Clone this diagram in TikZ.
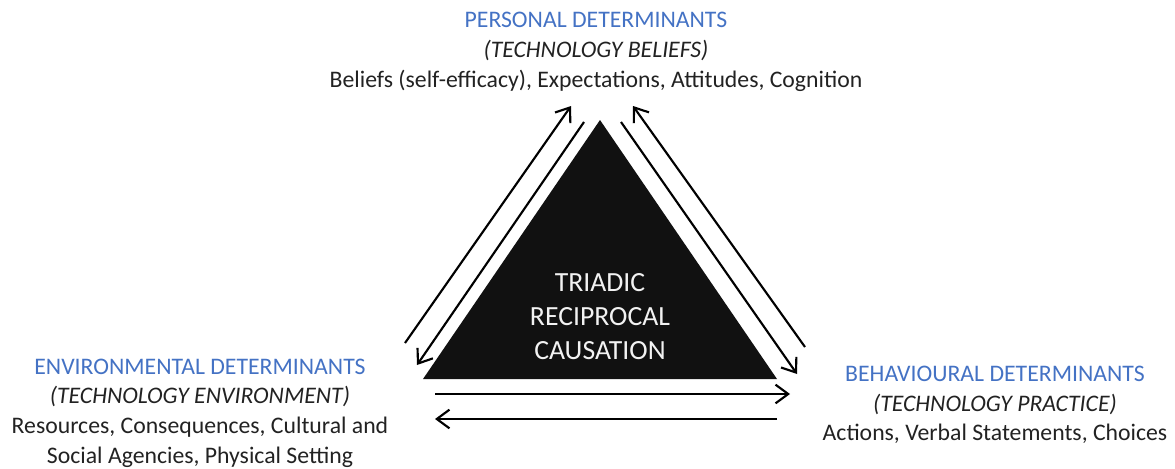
\documentclass[tikz,border=0pt]{standalone}
\usepackage{fontspec}
\setmainfont{Carlito}
\usetikzlibrary{arrows.meta}

\definecolor{detblue}{RGB}{68,114,196}
\definecolor{triblack}{RGB}{17,17,17}
\definecolor{textgrey}{RGB}{34,34,34}

\tikzset{every picture/.style={line width=0.75pt}}
\tikzset{
  linkarrow/.style={line width=1.6pt,-{Straight Barb[length=9.5pt,width=14pt,line width=1.6pt]}},
  detlabel/.style={align=center,text=textgrey,font=\fontsize{17.8}{22.3}\selectfont},
  triadtext/.style={align=center,text=black!5,font=\fontsize{20.8}{25.5}\selectfont}
}
\newcommand{\dethead}[1]{\textcolor{detblue}{#1}}

\begin{document}
\begin{tikzpicture}[x=0.75pt,y=0.75pt,yscale=-1,xscale=1]
\useasboundingbox (0,0) rectangle (1175,468);

%Shape: Triangle
\coordinate (apex) at (600,120);
\coordinate (baseR) at (777,379);
\coordinate (baseL) at (423,379);
\draw [fill=triblack, draw=none] (apex) -- (baseR) -- (baseL) -- cycle ;

% Text Node
\node (triad) [triadtext] at (600,317) {TRIADIC\\RECIPROCAL\\CAUSATION};

% Text Node
\node (personal) [detlabel] at (596,52) {\dethead{PERSONAL DETERMINANTS}\\
  \textit{(TECHNOLOGY BELIEFS)}\\
  Beliefs (self-efficacy), Expectations, Attitudes, Cognition};
% Text Node
\node (environ) [detlabel] at (200,413) {\dethead{ENVIRONMENTAL DETERMINANTS}\\
  \textit{(TECHNOLOGY ENVIRONMENT)}\\
  Resources, Consequences, Cultural and\\
  Social Agencies, Physical Setting};
% Text Node
\node (behav) [detlabel] at (995,405) {\dethead{BEHAVIOURAL DETERMINANTS}\\
  \textit{(TECHNOLOGY PRACTICE)}\\
  Actions, Verbal Statements, Choices};

%Arrow ends
\coordinate (lo1) at (405,343);  \coordinate (lo2) at (571,106);
\coordinate (li1) at (584,122);  \coordinate (li2) at (417,365);
\coordinate (ro1) at (805,347);  \coordinate (ro2) at (633,106);
\coordinate (ri1) at (621,122);  \coordinate (ri2) at (797,374);
\coordinate (bt1) at (435,394);  \coordinate (bt2) at (790,394);
\coordinate (bb1) at (777,419);  \coordinate (bb2) at (435,419);

%Straight Lines: environment <-> personal
\draw [linkarrow] (lo1) -- (lo2) ;
\draw [linkarrow] (li1) -- (li2) ;
%Straight Lines: personal <-> behaviour
\draw [linkarrow] (ro1) -- (ro2) ;
\draw [linkarrow] (ri1) -- (ri2) ;
%Straight Lines: environment <-> behaviour
\draw [linkarrow] (bt1) -- (bt2) ;
\draw [linkarrow] (bb1) -- (bb2) ;

\end{tikzpicture}
\end{document}
